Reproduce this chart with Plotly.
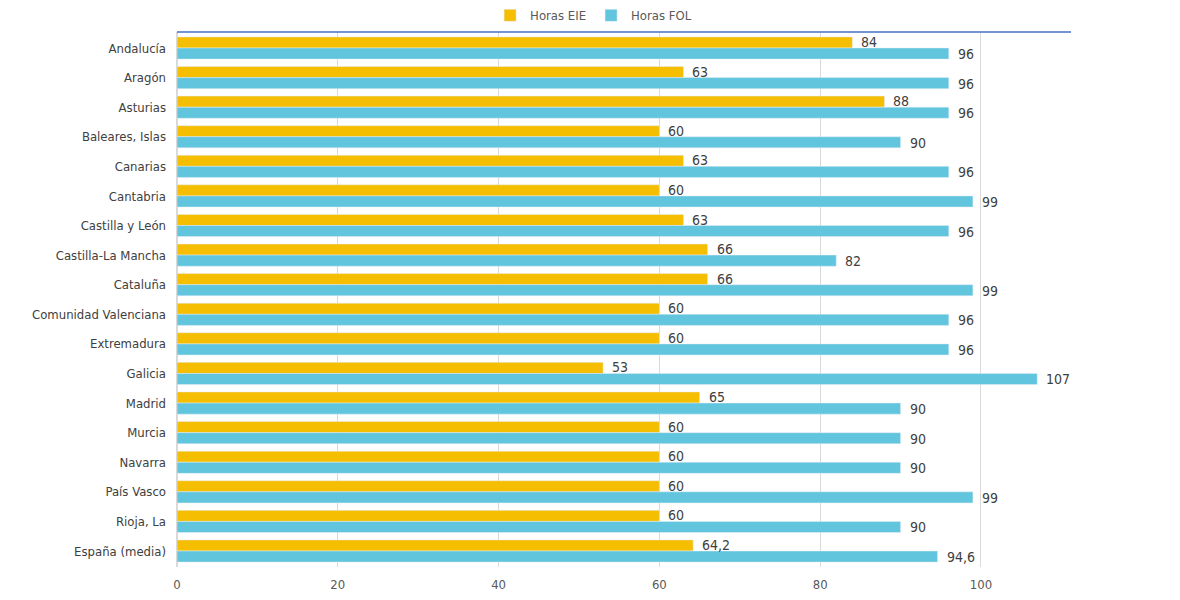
import plotly.graph_objects as go

regiones = [
    "Andalucía", "Aragón", "Asturias", "Baleares, Islas", "Canarias", "Cantabria",
    "Castilla y León", "Castilla-La Mancha", "Cataluña", "Comunidad Valenciana",
    "Extremadura", "Galicia", "Madrid", "Murcia", "Navarra", "País Vasco",
    "Rioja, La", "España (media)",
]
horas_eie = [84, 63, 88, 60, 63, 60, 63, 66, 66, 60, 60, 53, 65, 60, 60, 60, 60, 64.2]
horas_fol = [96, 96, 96, 90, 96, 99, 96, 82, 99, 96, 96, 107, 90, 90, 90, 99, 90, 94.6]
x_ticks = [0, 20, 40, 60, 80, 100]

FONT = "Liberation Sans Narrow, DejaVu Sans Condensed, Arial Narrow, sans-serif"


def fmt(v):
    return f"{v:g}".replace(".", ",")


fig = go.Figure()
fig.add_trace(go.Bar(y=regiones, x=horas_eie, name="Horas EIE", orientation="h",
                     marker_color="#F5BE00"))
fig.add_trace(go.Bar(y=regiones, x=horas_fol, name="Horas FOL", orientation="h",
                     marker_color="#60C5DD"))

# data labels next to the bar ends (EIE on the upper bar, FOL on the lower one)
for reg, e, f in zip(regiones, horas_eie, horas_fol):
    fig.add_annotation(x=e, y=reg, text=fmt(e), showarrow=False, xanchor="left",
                       xshift=7, yshift=6, font=dict(size=14, color="#404040", family=FONT))
    fig.add_annotation(x=f, y=reg, text=fmt(f), showarrow=False, xanchor="left",
                       xshift=7, yshift=-6, font=dict(size=14, color="#404040", family=FONT))

fig.add_shape(type="line", xref="paper", yref="paper", x0=0, x1=1, y0=1, y1=1,
              line=dict(color="#4472C4", width=1.5))

fig.update_xaxes(range=[0, 111.2], tickvals=x_ticks, showgrid=True, gridcolor="#D9D9D9",
                 zeroline=True, zerolinecolor="#D9D9D9", ticks="", ticklabelstandoff=8,
                 tickfont=dict(size=13, color="#595959", family=FONT))
fig.update_yaxes(autorange="reversed", ticks="", ticklabelstandoff=10,
                 tickfont=dict(size=13, color="#404040", family=FONT))
# the page body adds an 8px offset, so margins are trimmed to land where the original does
fig.update_layout(
    barmode="group",
    bargap=0.25,
    bargroupgap=0.0,
    width=1180,
    height=600,
    plot_bgcolor="white",
    paper_bgcolor="white",
    margin=dict(l=169, r=117, t=24, b=41, autoexpand=False),
    legend=dict(orientation="h", x=0.466, xanchor="center",
                y=1.003, yanchor="bottom", bgcolor="rgba(0,0,0,0)",
                font=dict(size=13, color="#595959", family=FONT), itemwidth=30),
    showlegend=True,
)

fig.write_html("out.html")
